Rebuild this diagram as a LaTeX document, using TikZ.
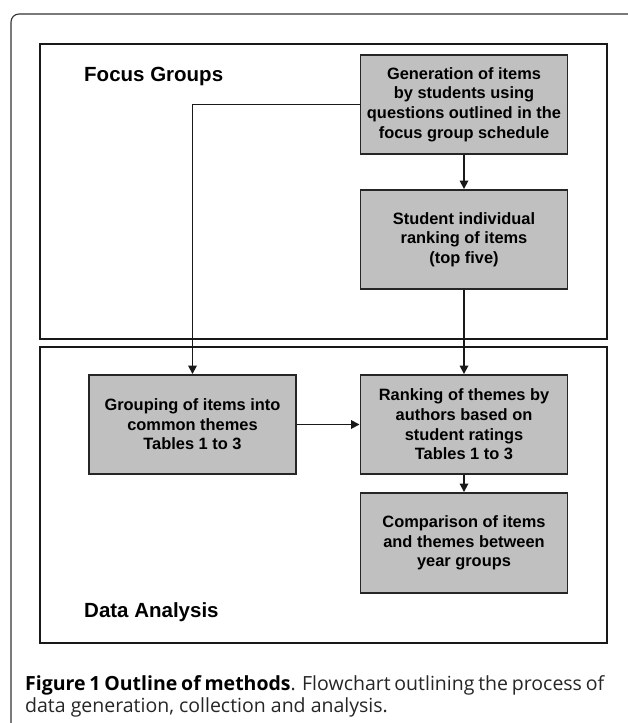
\documentclass[tikz,border=0pt]{standalone}
\usepackage{fontspec}
\setmainfont{Liberation Sans}
\newfontfamily\capfont{Open Sans}
\usetikzlibrary{arrows.meta}
\definecolor{boxgray}{RGB}{192,192,192}
\begin{document}
\begin{tikzpicture}[x=1pt,y=-1pt,
  panel/.style={draw=black!90, line width=2pt, inner sep=0pt},
  stepbox/.style={draw=black!85, line width=1.9pt, fill=boxgray,
    minimum width=207pt, minimum height=99pt, align=center, inner sep=0pt,
    font=\fontsize{16.4}{19.6}\selectfont\bfseries},
  conn/.style={line width=1.7pt, draw=black!90},
  arr/.style={conn, -{Triangle[length=8.5pt,width=8.5pt]}},
  paneltitle/.style={font=\fontsize{20.5}{24}\selectfont\bfseries, anchor=base west, inner sep=0pt}]
\useasboundingbox (0,0) rectangle (628,723);
\fill[white] (0,0) rectangle (628,723);
% outer frame
\draw[line width=1.1pt, black!80, rounded corners=8pt] (629,14) -- (11,14) -- (11,724);
% panels
\node[panel, minimum width=567pt, minimum height=295pt] (fgpanel) at (323.5,191.5) {};
\node[panel, minimum width=567pt, minimum height=296pt] (dapanel) at (323.5,495) {};
\node[paneltitle] (fgtitle) at (84,81) {Focus Groups};
\node[paneltitle] (datitle) at (84,617) {Data Analysis};
% boxes
\node[stepbox] (gen) at (464,104.5) {Generation of items\\by students using\\questions outlined in the\\focus group schedule};
\node[stepbox] (rank) at (464,239.5) {Student individual\\ranking of items\\(top five)};
\node[stepbox] (group) at (192.5,424.5) {Grouping of items into\\common themes\\Tables 1 to 3};
\node[stepbox] (theme) at (464,424.5) {Ranking of themes by\\authors based on\\student ratings\\Tables 1 to 3};
\node[stepbox, minimum height=100pt] (comp) at (464,543) {Comparison of items\\and themes between\\year groups};
% connectors
\draw[arr] (gen.south) -- (rank.north);
\draw[arr] (gen.west) -| (group.north);
\draw[arr] (rank.south) -- (theme.north);
\draw[arr] (group.east) -- (theme.west);
\draw[arr] (theme.south) -- (comp.north);
% caption
\node[anchor=base west, inner sep=0pt, text=black!85] (cap) at (25,690) {\parbox[t]{579pt}{\capfont\fontsize{19.5}{22}\selectfont
\makebox[579pt][s]{\textbf{\color{black}Figure 1 Outline of methods}. Flowchart outlining the process of}\\
data generation, collection and analysis.}};
\end{tikzpicture}
\end{document}
